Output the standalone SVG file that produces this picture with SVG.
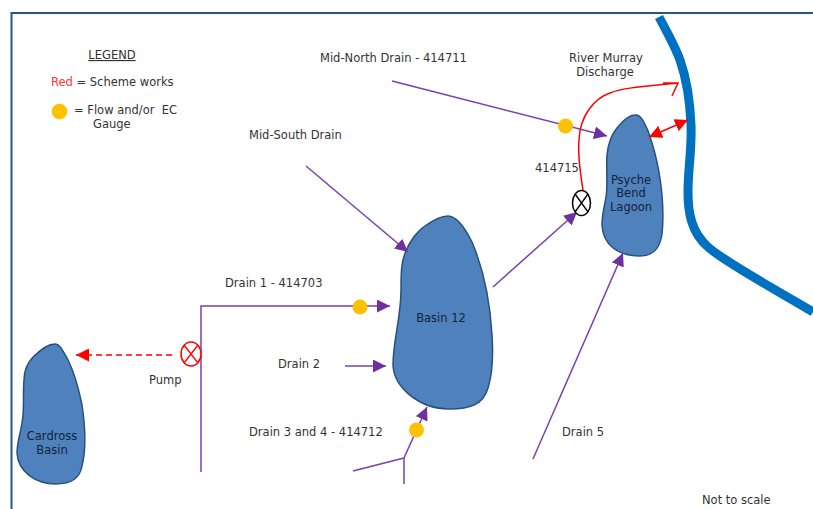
<svg xmlns="http://www.w3.org/2000/svg" width="813" height="509" viewBox="0 0 813 509">
<style>
text{font-family:"DejaVu Sans",Verdana,sans-serif;font-size:11.5px;fill:#333}
.in{fill:#14233a;text-anchor:middle}
.m{text-anchor:middle}
.basin{fill:#4f81bd;stroke:#26517f;stroke-width:1.5}
.p{fill:none;stroke:#7a3fb0;stroke-width:1.5}
.g{fill:#ffc000}
.r{fill:none;stroke:#f00;stroke-width:1.5}
</style>
<defs>
<marker id="pa" markerUnits="userSpaceOnUse" markerWidth="14" markerHeight="13" refX="13" refY="6.500" orient="auto"><path d="M0 0L13 6.500L0 13Z" fill="#7030a0"/></marker>
<marker id="ra" markerUnits="userSpaceOnUse" markerWidth="14" markerHeight="13" refX="13" refY="6.500" orient="auto-start-reverse"><path d="M0 0L13 6.500L0 13Z" fill="#f00"/></marker>
</defs>
<rect width="813" height="509" fill="#fff"/>
<path d="M11.500 509V13H813" fill="none" stroke="#2a5588" stroke-width="2"/>
<g id="legend">
<text x="112" y="59" class="m" text-decoration="underline">LEGEND</text>
<text x="51" y="86"><tspan fill="#f33">Red</tspan> = Scheme works</text>
<circle cx="59.500" cy="111.500" r="7.800" class="g"/>
<text x="74" y="114">= Flow and/or&#160; EC</text>
<text x="93" y="128">Gauge</text>
</g>
<g id="river"><path d="M659 17C667 32 675 46 680 60C687 80 690 100 691 125C692 150 688 168 688 192C688 212 691 232 708 247C726 263 780 292 813 312" fill="none" stroke="#0070c0" stroke-width="9"/></g>
<g id="basin-12">
<path class="basin" d="M448 216C440 216 432 221 425 226C416 232 409 243 406 251C401 261 401 275 401 290C401 318 393 340 393 365C394 388 420 409 449 409C470 409 483 405 488 388C493 372 493 350 492 335C490 300 483 268 472 242C464 226 456 216 448 216Z"/>
<text x="441" y="322" class="in">Basin 12</text>
</g>
<g id="psyche-bend-lagoon">
<path class="basin" d="M636 115C628 115 622 122 617 128C611 135 608 145 607 155C606 170 608 185 606 197C604 208 602 215 602 225C603 245 618 256 640 256C654 256 660 248 662 234C664 215 662 190 659 172C656 155 652 142 648 131C644 122 641 115 636 115Z"/>
<text x="631" y="184" class="in">Psyche</text>
<text x="631" y="197" class="in">Bend</text>
<text x="631" y="211" class="in">Lagoon</text>
</g>
<g id="cardross-basin">
<path class="basin" d="M55 344C47 344 40 351 34 356C28 362 24 370 24 380C23 392 24 402 23 415C22 430 17 440 17 453C18 472 36 484 56 484C72 484 80 478 82 466C86 450 85 425 82 405C78 385 74 372 68 360C63 351 60 344 55 344Z"/>
<text x="52" y="440" class="in">Cardross</text>
<text x="52" y="454" class="in">Basin</text>
</g>
<g id="connectors">
<path class="p" d="M392 81L607 136" marker-end="url(#pa)"/>
<path class="p" d="M306 166L408 252" marker-end="url(#pa)"/>
<path class="p" d="M201 472V306H390" marker-end="url(#pa)"/>
<path class="p" d="M345 366H386" marker-end="url(#pa)"/>
<path class="p" d="M404 484V458L427 407" marker-end="url(#pa)"/>
<path class="p" d="M353 471L404 458"/>
<path class="p" d="M493 287L577 212" marker-end="url(#pa)"/>
<path class="p" d="M533 459L623 253" marker-end="url(#pa)"/>
<path class="r" d="M583 190C579 165 578 150 579 140C580 115 595 98 610 93C625 87 650 86 678 83M663 83L678 83L672 96"/>
<path class="r" d="M649 137L688 120" marker-start="url(#ra)" marker-end="url(#ra)"/>
<path class="r" d="M172 355H76" stroke-dasharray="6 4" marker-end="url(#ra)"/>
</g>
<g id="gauge-north"><circle cx="565.500" cy="126" r="7.500" class="g"/></g>
<g id="gauge-drain-1"><circle cx="360" cy="307" r="7.500" class="g"/></g>
<g id="gauge-drain-3-4"><circle cx="416.500" cy="430" r="7.500" class="g"/></g>
<g id="valve-414715"><ellipse cx="581.500" cy="203" rx="9" ry="12.500" fill="#fff" stroke="#000" stroke-width="1.500"/><path d="M575 194L588 212M588 194L575 212" stroke="#000" stroke-width="1.300"/></g>
<g id="pump"><ellipse cx="191" cy="354" rx="10" ry="12" fill="#fff" stroke="#f00" stroke-width="1.500"/><path d="M184 345L198 363M198 345L184 363" stroke="#f00" stroke-width="1.300"/></g>
<g id="labels">
<text x="320" y="62">Mid-North Drain - 414711</text>
<text x="606" y="62" class="m">River Murray</text>
<text x="605" y="76" class="m">Discharge</text>
<text x="249" y="139">Mid-South Drain</text>
<text x="535" y="172">414715</text>
<text x="225" y="287">Drain 1 - 414703</text>
<text x="149" y="384">Pump</text>
<text x="278" y="368">Drain 2</text>
<text x="249" y="436">Drain 3 and 4 - 414712</text>
<text x="562" y="436">Drain 5</text>
<text x="702" y="504">Not to scale</text>
</g>
</svg>
